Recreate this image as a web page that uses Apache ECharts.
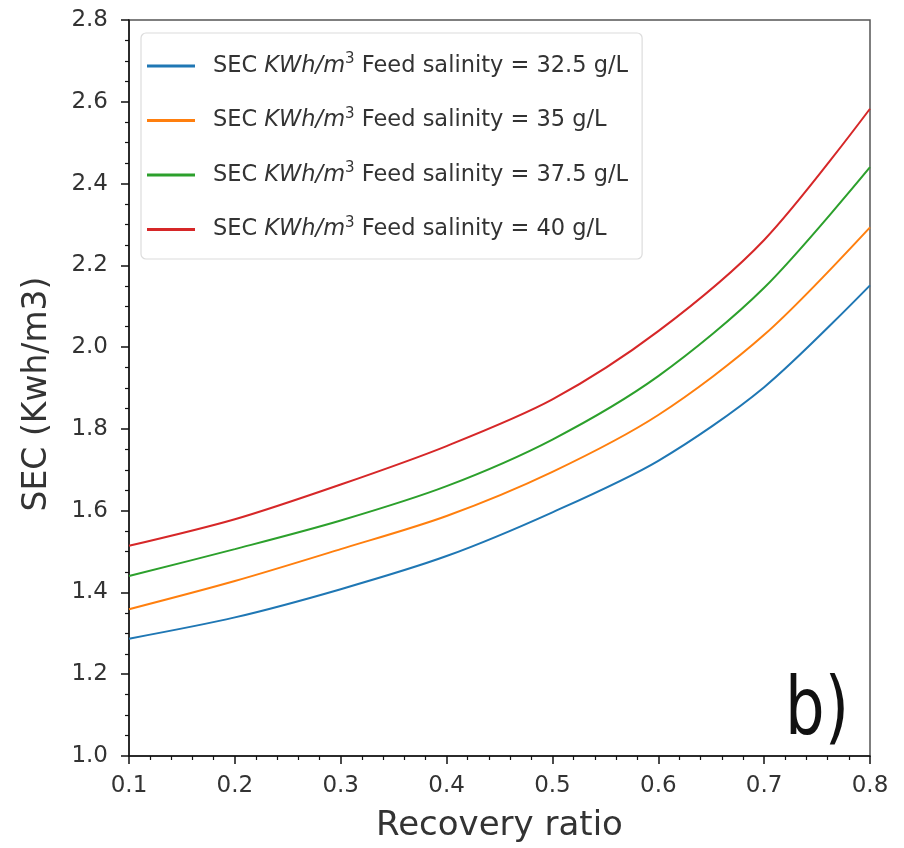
<!DOCTYPE html>
<html>
<head>
<meta charset="utf-8">
<title>SEC vs recovery ratio</title>
<script src="https://cdn.jsdelivr.net/npm/echarts@6/dist/echarts.min.js"></script>
<style>
  html, body { margin: 0; padding: 0; background: #fff; }
  #chart { width: 904px; height: 848px; }
</style>
</head>
<body>
<div id="chart"></div>
<script>
// Recovery ratio (x) and specific energy consumption (kWh/m3) per feed salinity
const recoveryRatio = [0.1, 0.2, 0.3, 0.4, 0.5, 0.6, 0.7, 0.8];
const sec325 = [1.287, 1.339, 1.408, 1.489, 1.596, 1.722, 1.902, 2.151];
const sec35  = [1.359, 1.428, 1.506, 1.587, 1.695, 1.834, 2.030, 2.293];
const sec375 = [1.440, 1.506, 1.576, 1.660, 1.774, 1.929, 2.145, 2.440];
const sec40  = [1.514, 1.579, 1.664, 1.758, 1.872, 2.039, 2.262, 2.583];
const salinities = ['32.5', '35', '37.5', '40'];
const seriesValues = [sec325, sec35, sec375, sec40];
const colors = ['#1f77b4', '#ff7f0e', '#2ca02c', '#d62728'];

const FONT = 'DejaVu Sans';

const seriesName = s => 'SEC KWh/m3 Feed salinity = ' + s + ' g/L';

const chart = echarts.init(document.getElementById('chart'), null, { renderer: 'canvas' });

const series = salinities.map((s, k) => ({
  name: seriesName(s),
  type: 'line',
  data: recoveryRatio.map((r, i) => [r, seriesValues[k][i]]),
  smooth: 0.3,
  symbol: 'none',
  lineStyle: { color: colors[k], width: 2 },
  itemStyle: { color: colors[k] },
  z: 3
}));

chart.setOption({
  animation: false,
  backgroundColor: '#ffffff',
  textStyle: { fontFamily: FONT },
  grid: {
    left: 129, right: 34, top: 20, bottom: 91,
    show: true,
    borderColor: '#555',
    borderWidth: 1.5
  },
  legend: {
    orient: 'vertical',
    left: 141,
    top: 33,
    padding: [19, 14, 18, 6],
    itemGap: 29,
    icon: 'rect',
    itemWidth: 48,
    itemHeight: 3,
    backgroundColor: 'rgba(255,255,255,0.9)',
    borderColor: '#dcdcdc',
    borderWidth: 1.2,
    borderRadius: 5,
    formatter: name => {
      const s = name.replace(/^.*= /, '');
      return '{n|SEC }{i|KWh/m}{s|3}{n| Feed salinity = ' + s + '}';
    },
    textStyle: {
      color: '#333',
      fontFamily: FONT,
      fontSize: 22.5,
      padding: [0, 0, 0, 13],
      rich: {
        n: { fontSize: 22.5, fontFamily: FONT, color: '#333' },
        i: { fontSize: 22.5, fontFamily: FONT, fontStyle: 'italic', color: '#333' },
        s: { fontSize: 15, fontFamily: FONT, color: '#333', padding: [0, 0, 13, 0] }
      }
    },
    data: salinities.map(seriesName)
  },
  xAxis: {
    type: 'value',
    min: 0.1,
    max: 0.8,
    interval: 0.1,
    name: 'Recovery ratio',
    nameLocation: 'middle',
    nameGap: 53,
    nameTextStyle: { fontSize: 34, color: '#333', fontFamily: FONT },
    axisLine: { show: true, lineStyle: { color: '#111', width: 1.5 } },
    axisTick: { show: true, inside: false, length: 8, lineStyle: { color: '#111', width: 1.5 } },
    minorTick: { show: true, splitNumber: 5, length: 4, lineStyle: { color: '#111', width: 1.2 } },
    splitLine: { show: false },
    minorSplitLine: { show: false },
    axisLabel: {
      margin: 19,
      fontSize: 23,
      color: '#333',
      fontFamily: FONT,
      formatter: v => v.toFixed(1)
    }
  },
  yAxis: {
    type: 'value',
    min: 1.0,
    max: 2.8,
    interval: 0.2,
    name: 'SEC (Kwh/m3)',
    nameLocation: 'middle',
    nameGap: 75,
    nameRotate: 90,
    nameTextStyle: { fontSize: 33, color: '#333', fontFamily: FONT, padding: [0, 12, 0, 0] },
    axisLine: { show: true, lineStyle: { color: '#111', width: 1.5 } },
    axisTick: { show: true, inside: false, length: 8, lineStyle: { color: '#111', width: 1.5 } },
    minorTick: { show: true, splitNumber: 4, length: 4, lineStyle: { color: '#111', width: 1.2 } },
    splitLine: { show: false },
    minorSplitLine: { show: false },
    axisLabel: {
      margin: 21,
      fontSize: 23,
      color: '#333',
      fontFamily: FONT,
      formatter: v => v.toFixed(1)
    }
  },
  graphic: [{
    type: 'text',
    x: 849,
    y: 753,
    scaleX: 0.78,
    style: {
      text: 'b)',
      fontFamily: FONT,
      fontSize: 80,
      fill: '#111',
      align: 'right',
      verticalAlign: 'bottom'
    },
    z: 10
  }],
  series: series
});
</script>
</body>
</html>
